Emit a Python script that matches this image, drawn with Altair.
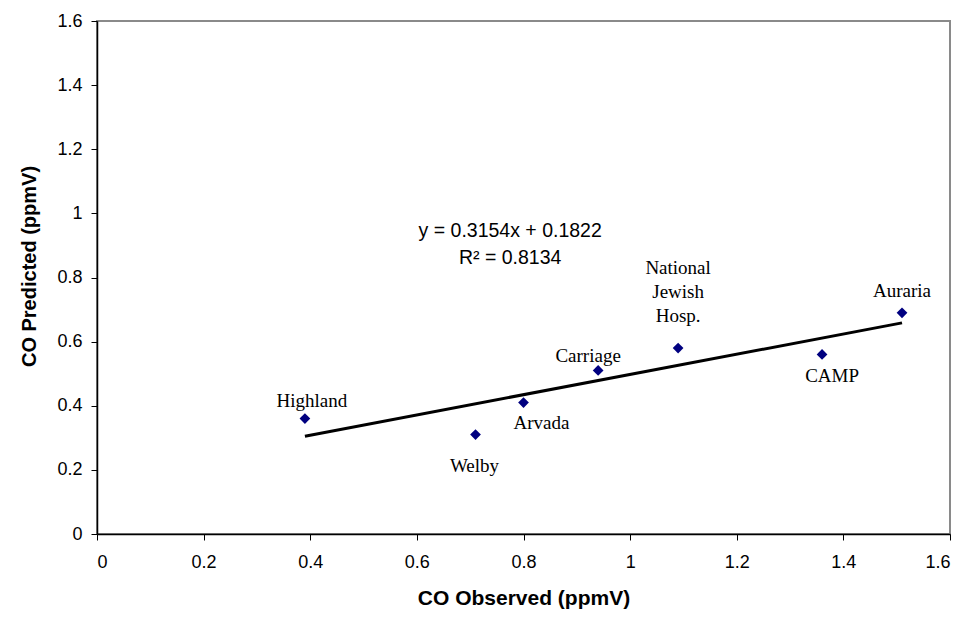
import altair as alt
import pandas as pd

# ---- data ----
sites = ["Highland", "Welby", "Arvada", "Carriage", "National\nJewish\nHosp.", "CAMP", "Auraria"]
observed = [0.39, 0.71, 0.80, 0.94, 1.09, 1.36, 1.51]
predicted = [0.36, 0.31, 0.41, 0.51, 0.58, 0.56, 0.69]
tick_values = [0, 0.2, 0.4, 0.6, 0.8, 1.0, 1.2, 1.4, 1.6]
equation_lines = ["y = 0.3154x + 0.1822", "R\u00b2 = 0.8134"]

df = pd.DataFrame({"site": sites, "obs": observed, "pred": predicted})

# label offsets (style, pixels)
label_offsets = {
    "Highland": (7, -18),
    "Welby": (-1, 31),
    "Arvada": (18, 20),
    "Carriage": (-10, -14),
    "National\nJewish\nHosp.": (0, -80),
    "CAMP": (10, 22),
    "Auraria": (0, -22),
}

xs = alt.Scale(domain=[0, 1.6], nice=False, zero=True)
ys = alt.Scale(domain=[0, 1.6], nice=False, zero=True)

x_enc = alt.X("obs:Q", scale=xs, title="CO Observed (ppmV)",
              axis=alt.Axis(values=tick_values, format="~g"))
y_enc = alt.Y("pred:Q", scale=ys, title="CO Predicted (ppmV)",
              axis=alt.Axis(values=tick_values, format="~g", titleY=245))

base = alt.Chart(df)

trend = base.transform_regression("obs", "pred", method="linear").mark_line(
    color="black", strokeWidth=3
).encode(x=x_enc, y=y_enc)

points = base.mark_point(
    shape="diamond", filled=True, size=115, color="#000080", opacity=1
).encode(x=x_enc, y=y_enc)

label_layers = []
for name, (dx, dy) in label_offsets.items():
    label_layers.append(
        base.transform_filter(alt.datum.site == name)
        .transform_calculate(lbl="split(datum.site, '\\n')")
        .mark_text(
            font="Liberation Serif", fontSize=19, color="black",
            align="center", baseline="middle", dx=dx, dy=dy, lineHeight=24,
        )
        .encode(x=x_enc, y=y_enc, text="lbl:N")
    )

eq_df = pd.DataFrame({"ex": [0.775], "ey": [0.945], "t": [equation_lines]})
equation = alt.Chart(eq_df).mark_text(
    font="Liberation Sans", fontSize=19.5, color="black",
    align="center", baseline="middle", lineHeight=27,
).encode(
    x=alt.X("ex:Q", scale=xs), y=alt.Y("ey:Q", scale=ys), text="t"
)

chart = alt.layer(trend, points, *label_layers, equation).properties(
    width=853, height=513,
    autosize=alt.AutoSizeParams(type="none"),
    padding={"left": 89, "top": 13, "right": 22, "bottom": 76},
    background="white",
).configure_view(
    stroke="#8a8a8a", strokeWidth=2
).configure_axis(
    grid=False,
    domainColor="black", domainWidth=1.5,
    tickColor="black", tickSize=6, tickWidth=1,
    labelFont="Liberation Sans", labelFontSize=18, labelColor="black",
    titleFont="Liberation Sans", titleFontWeight="bold",
    titleColor="black",
).configure_axisX(
    labelPadding=13, titlePadding=16, titleFontSize=21,
).configure_axisY(
    labelPadding=9, titlePadding=17, titleFontSize=20,
)

chart.save("out.html", embed_options={"renderer": "svg", "actions": False})
